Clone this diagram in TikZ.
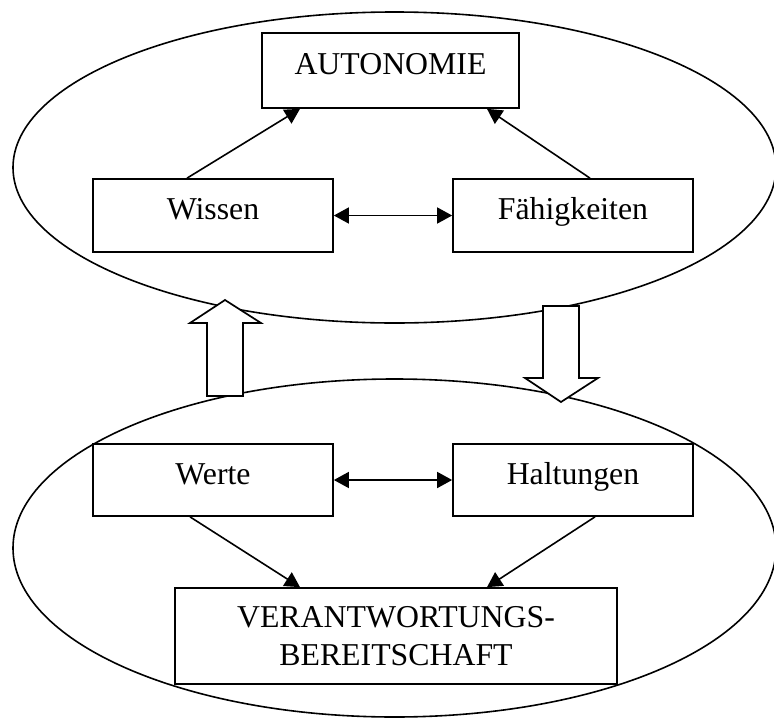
\documentclass[tikz,border=0pt]{standalone}
\usepackage{fontspec}
\setmainfont{Liberation Serif}
\usetikzlibrary{arrows.meta,shapes.geometric}
\begin{document}
\begin{tikzpicture}[x=1pt,y=-1pt,
  every node/.style={font=\fontsize{31.8}{38}\selectfont},
  box/.style={draw,line width=1.7pt,rectangle,inner sep=0pt,align=center},
  onerow/.style={text height=22pt,text depth=14pt},
  link/.style={line width=1.6pt,-{Triangle[length=15pt,width=16pt]}},
  twoway/.style={line width=1.6pt,{Triangle[length=15pt,width=16pt]}-{Triangle[length=15pt,width=16pt]}},
  blockarrow/.style={draw,fill=white,line width=1.7pt,line join=miter}]
\useasboundingbox (0,0) rectangle (774,718);

% the two ellipses
\node[ellipse,draw,line width=1.6pt,minimum width=763pt,minimum height=311pt,inner sep=0pt] (upper) at (394.5,167.5) {};
\node[ellipse,draw,line width=1.6pt,minimum width=763pt,minimum height=338pt,inner sep=0pt] (lower) at (394.5,548) {};

% hollow block arrows between the ellipses
\draw[blockarrow] (207,396) -- (207,323) -- (190,323) -- (225,300) -- (261,323) -- (243,323) -- (243,396) -- cycle;
\draw[blockarrow] (543,306) -- (579,306) -- (579,378) -- (598,378) -- (561,402) -- (525,378) -- (543,378) -- cycle;

% boxes
\node[box,onerow,minimum width=257pt,minimum height=75pt] (auto) at (390.5,70.5) {AUTONOMIE};
\node[box,onerow,minimum width=240pt,minimum height=73pt] (wissen) at (213,215.5) {Wissen};
\node[box,onerow,minimum width=240pt,minimum height=73pt] (faeh) at (573,215.5) {Fähigkeiten};
\node[box,onerow,minimum width=240pt,minimum height=72pt] (werte) at (213,480) {Werte};
\node[box,onerow,minimum width=240pt,minimum height=72pt] (halt) at (573,480) {Haltungen};
\node[box,minimum width=442pt,minimum height=96pt] (verant) at (396,636) {VERANTWORTUNGS-\\BEREITSCHAFT};

% connectors
\draw[link] ([xshift=-26pt]wissen.north) -- ([xshift=-90.5pt]auto.south);
\draw[link] ([xshift=17pt]faeh.north) -- ([xshift=96.5pt]auto.south);
\draw[twoway] (wissen.east) -- (faeh.east -| faeh.west);
\draw[twoway] (werte.east) -- (halt.east -| halt.west);
\draw[link] ([xshift=-23pt]werte.south) -- ([xshift=-96pt]verant.north);
\draw[link] ([xshift=22pt]halt.south) -- ([xshift=91pt]verant.north);
\end{tikzpicture}
\end{document}
